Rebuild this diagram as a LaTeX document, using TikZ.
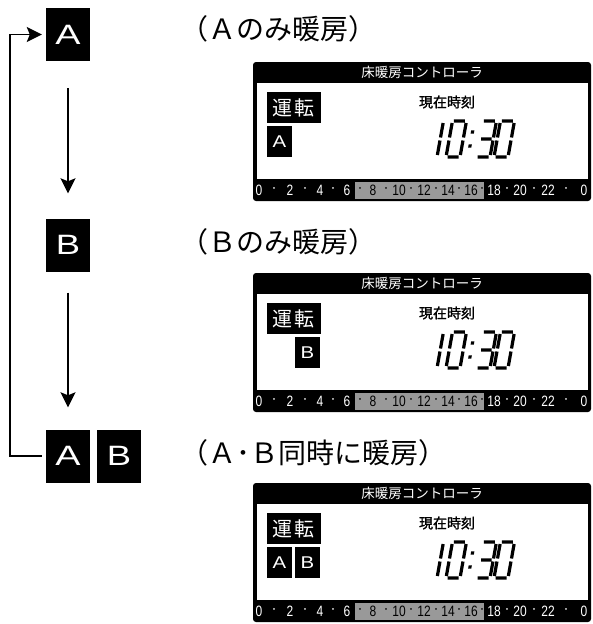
\documentclass[tikz,border=0pt]{standalone}
\usepackage{fontspec}
\usepackage{graphicx}
\usetikzlibrary{arrows.meta}
\newfontfamily\lat{Liberation Sans}
\newfontfamily\jp{Noto Sans CJK JP}
\newfontfamily\jpb[FakeBold=1.5]{Noto Sans CJK JP}
\tikzset{
 bigbox/.style={fill=black, minimum width=44pt, minimum height=53pt, inner sep=0pt, text=white, font=\lat\fontsize{28}{28}\selectfont},
 flow/.style={line width=1.8pt, -{Stealth[length=15pt,width=15pt,inset=3pt]}},
 modelabel/.style={anchor=west, inner sep=0pt, font=\jp\fontsize{28}{28}\selectfont},
 hdrtext/.style={text=white, inner sep=0pt, font=\jp\fontsize{13.5}{13.5}\selectfont},
 nowtext/.style={inner sep=0pt, font=\jpb\fontsize{14}{14}\selectfont},
 runbox/.style={fill=black, text=white, inner sep=0pt, minimum width=54pt, minimum height=31pt, font=\jp\fontsize{20}{20}\selectfont},
 modebox/.style={fill=black, text=white, inner sep=0pt, minimum width=25pt, minimum height=31pt, font=\lat\fontsize{17}{17}\selectfont},
 seg/.style={line width=3.2pt},
 tl/.style={font=\lat\fontsize{15}{15}\selectfont, inner sep=0pt, text=white},
 tldark/.style={tl, text=black},
}
\newcommand\dzero{\draw[seg] (1.5,0) -- (12.5,0) (1.5,-36) -- (12.5,-36) (0,-2) -- (0,-16.5) (0,-19.5) -- (0,-34) (14,-2) -- (14,-16.5) (14,-19.5) -- (14,-34);}
\newcommand\dthree{\draw[seg] (1.5,0) -- (12.5,0) (1.5,-36) -- (12.5,-36) (2,-18) -- (12.5,-18) (14,-2) -- (14,-16.5) (14,-19.5) -- (14,-34);}
\newcommand\ctrlpanel[2]{%
\begin{scope}[shift={(0,#1)}]
 \fill[rounded corners=3pt] (253,0) rectangle (591,139);
 \fill[white] (257,21) rectangle (588,117);
 \fill[black!40] (355,120) rectangle (484,137);
 \node[hdrtext] (#2hdr) at (422,10.5) {床暖房コントローラ};
 \node[nowtext] (#2now) at (447,40) {現在時刻};
 \node[runbox] (#2run) at (293.5,45.5) {運\hspace{2pt}転};
 \begin{scope}[shift={(437,95)}, xslant=0.18]
  \draw[seg] (0,-2) -- (0,-16.5) (0,-19.5) -- (0,-34);
 \end{scope}
 \begin{scope}[shift={(446,95)}, xslant=0.18]\dzero\end{scope}
 \begin{scope}[shift={(468,95)}, xslant=0.18]
  \fill (-1.6,-12.6) rectangle (1.6,-9.4);
  \fill (-1.6,-26.6) rectangle (1.6,-23.4);
 \end{scope}
 \begin{scope}[shift={(476,95)}, xslant=0.18]\dthree\end{scope}
 \begin{scope}[shift={(494,95)}, xslant=0.18]\dzero\end{scope}
 \foreach \x/\t in {259/0,290/2,320/4,347/6,494/18,520/20,548/22,584/0}
  \node[tl] (#2n\x) at (\x,128) {\scalebox{0.8}[1]{\t}};
 \foreach \x/\t in {373/8,399/10,424/12,448/14,471/16}
  \node[tldark] (#2n\x) at (\x,128) {\scalebox{0.8}[1]{\t}};
 \foreach \x in {274,305,333,507,534,566}
  \node[tl] (#2d\x) at (\x,128) {·};
 \foreach \x in {360,386,411,436,459,482}
  \node[tldark] (#2d\x) at (\x,128) {·};
\end{scope}}
\begin{document}
\begin{tikzpicture}[x=1pt,y=-1pt]
\useasboundingbox (0,0) rectangle (592,624);
% left flow
\node[bigbox] (A) at (68,34.5) {\scalebox{1.35}[1]{A}};
\node[bigbox] (B) at (68,245) {\scalebox{1.3}[1]{B}};
\node[bigbox] (ABa) at (68,456) {\scalebox{1.35}[1]{A}};
\node[bigbox] (ABb) at (119,456) {\scalebox{1.3}[1]{B}};
\coordinate (loop) at (10,250);
\draw[flow, shorten <=27pt, shorten >=25pt] (A) -- (B);
\draw[flow, shorten <=21pt, shorten >=22pt] (B) -- (ABa);
\draw[flow, shorten <=4pt, shorten >=4pt] (ABa.west) -| (loop) |- (A.west);
% labels
\node[modelabel] (L1) at (180,29) {（Ａのみ暖房）};
\node[modelabel] (L2) at (180,242) {（Ｂのみ暖房）};
\node[modelabel] (L3) at (180,453) {（Ａ･Ｂ同時に暖房）};
% panels
\ctrlpanel{62}{p1}
\ctrlpanel{273}{p2}
\ctrlpanel{483}{p3}
\node[modebox] (p1A) at (279.5,141.5) {\scalebox{1.2}[1]{A}};
\node[modebox] (p2B) at (307.5,352.5) {\scalebox{1.2}[1]{B}};
\node[modebox] (p3A) at (279.5,562.5) {\scalebox{1.2}[1]{A}};
\node[modebox] (p3B) at (307.5,562.5) {\scalebox{1.2}[1]{B}};
\end{tikzpicture}
\end{document}
